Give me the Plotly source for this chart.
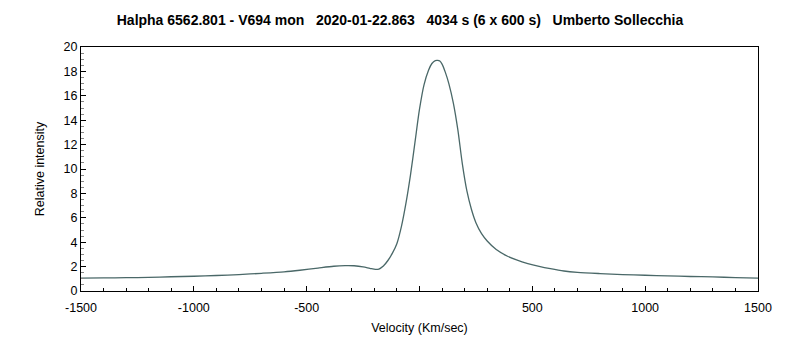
import plotly.graph_objects as go

velocity = [-1500, -1400, -1300, -1200, -1100, -1000, -900, -800, -700, -600, -530, -450,
            -380, -330, -290, -250, -220, -195, -180, -160, -140, -120, -100, -80, -60, -40,
            -20, 0, 20, 40, 55, 70, 80, 90, 100, 115, 130, 150, 170, 190, 210, 230, 250,
            275, 300, 340, 390, 430, 480, 530, 580, 640, 700, 800, 900, 1000, 1100, 1200, 1300, 1400, 1500]
intensity = [1.05, 1.07, 1.09, 1.12, 1.17, 1.21, 1.27, 1.35, 1.45, 1.57, 1.70, 1.88,
             2.03, 2.08, 2.07, 1.98, 1.86, 1.77, 1.80, 2.05, 2.5, 3.1, 3.9, 5.3, 7.2, 9.5,
             12.2, 14.9, 16.9, 18.1, 18.65, 18.88, 18.9, 18.85, 18.6, 17.9, 17.0, 15.4, 13.2, 10.4, 8.2, 6.7, 5.6,
             4.7, 4.1, 3.4, 2.85, 2.55, 2.25, 2.02, 1.83, 1.64, 1.53, 1.43, 1.35, 1.29, 1.24, 1.19, 1.15, 1.10, 1.05]

x_tickvals = [-1500, -1000, -500, 0, 500, 1000, 1500]
x_ticktext = ["-1500", "-1000", "-500", "", "500", "1000", "1500"]
y_tickvals = [0, 2, 4, 6, 8, 10, 12, 14, 16, 18, 20]

title = "Halpha 6562.801 - V694 mon\u00a0\u00a0\u00a02020-01-22.863\u00a0\u00a0\u00a04034 s (6 x 600 s)\u00a0\u00a0\u00a0Umberto Sollecchia"

fig = go.Figure()
fig.add_trace(go.Scatter(x=velocity, y=intensity, mode="lines",
                         line=dict(color="#4a6868", width=1.3, shape="spline", smoothing=0.8),
                         hoverinfo="skip", showlegend=False))

font = "Liberation Sans, Arial, sans-serif"
fig.update_layout(
    width=800, height=350,
    margin=dict(l=81, r=42, t=47, b=59),
    paper_bgcolor="white", plot_bgcolor="white",
    title=dict(text=title, x=0.5, xref="container", xanchor="center",
               y=1 - 20 / 350, yref="container", yanchor="middle",
               font=dict(family=font, size=14, color="black", weight="bold")),
    font=dict(family=font, size=12, color="black"),
    xaxis=dict(range=[-1500, 1500], tickvals=x_tickvals, ticktext=x_ticktext,
               ticks="inside", ticklen=5, tickwidth=1, tickcolor="black",
               ticklabelstandoff=5,
               showline=True, linecolor="black", linewidth=1, mirror=True,
               showgrid=False, zeroline=False,
               minor=dict(dtick=100, ticks="inside", ticklen=3, tickcolor="black", showgrid=False),
               title=dict(text="Velocity (Km/sec)", standoff=9, font=dict(size=12.5)),
               tickfont=dict(size=12.5)),
    yaxis=dict(range=[0, 20], tickvals=y_tickvals,
               ticks="inside", ticklen=5, tickwidth=1, tickcolor="black",
               showline=True, linecolor="black", linewidth=1, mirror=True,
               showgrid=False, zeroline=False,
               minor=dict(dtick=0.5, ticks="inside", ticklen=3, tickcolor="#888888", showgrid=False),
               title=dict(text="Relative intensity", standoff=16, font=dict(size=12.5)),
               tickfont=dict(size=12.5)),
)

fig.write_html("out.html")
